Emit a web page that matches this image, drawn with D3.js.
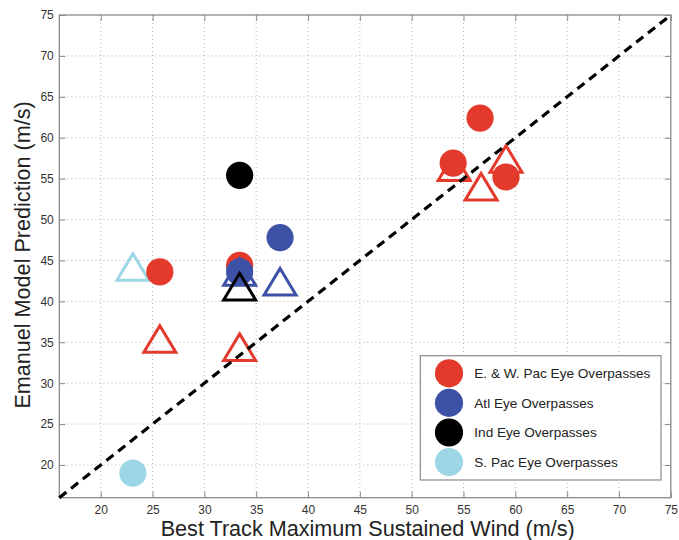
<!DOCTYPE html>
<html>
<head>
<meta charset="utf-8">
<script src="https://cdn.jsdelivr.net/npm/d3@7/dist/d3.min.js"></script>
<style>
  html, body { margin: 0; padding: 0; background: #fff; }
  svg { display: block; font-family: "Liberation Sans", Arial, Helvetica, sans-serif; }
</style>
</head>
<body>
<svg id="chart" width="679" height="540"></svg>
<script>
// Axis ticks (m/s)
const xTicks = [20, 25, 30, 35, 40, 45, 50, 55, 60, 65, 70, 75];
const yTicks = [20, 25, 30, 35, 40, 45, 50, 55, 60, 65, 70, 75];
const xDomain = [16, 75];
const yDomain = [16, 75];

// Regions, legend order
const regionNames = ["E. & W. Pac Eye Overpasses", "Atl Eye Overpasses", "Ind Eye Overpasses", "S. Pac Eye Overpasses"];
const regionColors = ["#e43a2c", "#3d52a6", "#000000", "#9dd7e5"];

// Filled circles: best track (x) vs model prediction (y)
const ewPacCircleX = [25.7, 33.4, 54.0, 56.6, 59.1];
const ewPacCircleY = [43.6, 44.4, 56.9, 62.4, 55.2];
const atlCircleX = [33.4, 37.3];
const atlCircleY = [43.6, 47.8];
const indCircleX = [33.4];
const indCircleY = [55.4];
const sPacCircleX = [23.1];
const sPacCircleY = [19.0];

// Open triangles
const ewPacTriX = [25.7, 33.4, 54.1, 56.7, 59.1];
const ewPacTriY = [35.4, 34.4, 56.4, 54.0, 57.4];
const atlTriX = [33.4, 37.3];
const atlTriY = [43.6, 42.4];
const indTriX = [33.4];
const indTriY = [41.8];
const sPacTriX = [23.1];
const sPacTriY = [44.2];

const svg = d3.select("#chart");
const plot = { left: 59.3, top: 15, right: 670.8, bottom: 497.7 };
const W = plot.right - plot.left, H = plot.bottom - plot.top;

const x = d3.scaleLinear().domain(xDomain).range([0, W]);
const y = d3.scaleLinear().domain(yDomain).range([H, 0]);

const g = svg.append("g").attr("transform", `translate(${plot.left},${plot.top})`);

g.append("rect").attr("width", W).attr("height", H).attr("fill", "#fff");

// Dotted grid
g.append("g").selectAll("line").data(xTicks.filter(t => t < xDomain[1])).join("line")
  .attr("x1", d => x(d)).attr("x2", d => x(d)).attr("y1", 0).attr("y2", H)
  .attr("stroke", "#b4b4b4").attr("stroke-width", 1).attr("stroke-dasharray", "1,3");
g.append("g").selectAll("line").data(yTicks.filter(t => t < yDomain[1])).join("line")
  .attr("y1", d => y(d)).attr("y2", d => y(d)).attr("x1", 0).attr("x2", W)
  .attr("stroke", "#b4b4b4").attr("stroke-width", 1).attr("stroke-dasharray", "1,3");

// Axes with inward ticks on all four sides
const tickLen = 6;
const axisColor = "#8a8a8a";
const styleAxis = sel => {
  sel.select(".domain").remove();
  sel.selectAll(".tick line").attr("stroke", axisColor).attr("stroke-width", 1);
  sel.selectAll(".tick text").attr("fill", "#333").style("font-size", "12px");
};
g.append("g").attr("transform", `translate(0,${H})`)
  .call(d3.axisBottom(x).tickValues(xTicks).tickSize(-tickLen).tickPadding(7.8))
  .call(styleAxis);
g.append("g")
  .call(d3.axisTop(x).tickValues(xTicks).tickSize(-tickLen).tickFormat(""))
  .call(styleAxis);
g.append("g")
  .call(d3.axisLeft(y).tickValues(yTicks).tickSize(-tickLen).tickPadding(5.5))
  .call(styleAxis);
g.append("g").attr("transform", `translate(${W},0)`)
  .call(d3.axisRight(y).tickValues(yTicks).tickSize(-tickLen).tickFormat(""))
  .call(styleAxis);

g.append("rect").attr("width", W).attr("height", H)
  .attr("fill", "none").attr("stroke", axisColor).attr("stroke-width", 1.3);

// Marker helpers
const R = 13.6;
const triPath = "M0,-13.3L16,13.3L-16,13.3Z";
function circles(xs, ys, color) {
  g.append("g").selectAll("circle").data(xs.map((v, i) => [v, ys[i]])).join("circle")
    .attr("cx", d => x(d[0])).attr("cy", d => y(d[1])).attr("r", R).attr("fill", color);
}
function triangles(xs, ys, color) {
  g.append("g").selectAll("path").data(xs.map((v, i) => [v, ys[i]])).join("path")
    .attr("d", triPath)
    .attr("transform", d => `translate(${x(d[0])},${y(d[1])})`)
    .attr("fill", "none").attr("stroke", color).attr("stroke-width", 3)
    .attr("stroke-linejoin", "miter");
}

triangles(sPacTriX, sPacTriY, regionColors[3]);
triangles(ewPacTriX, ewPacTriY, regionColors[0]);
circles(ewPacCircleX, ewPacCircleY, regionColors[0]);
triangles(atlTriX, atlTriY, regionColors[1]);
circles(atlCircleX, atlCircleY, regionColors[1]);
triangles(indTriX, indTriY, regionColors[2]);
circles(indCircleX, indCircleY, regionColors[2]);
circles(sPacCircleX, sPacCircleY, regionColors[3]);

// 1:1 reference line
g.append("line")
  .attr("x1", x(xDomain[0])).attr("y1", y(xDomain[0]))
  .attr("x2", x(xDomain[1])).attr("y2", y(xDomain[1]))
  .attr("stroke", "#000").attr("stroke-width", 3.2).attr("stroke-dasharray", "9,6");

// Legend
const lg = svg.append("g").attr("transform", "translate(420.3,355.7)");
lg.append("rect").attr("width", 240.7).attr("height", 124.3)
  .attr("fill", "#fff").attr("stroke", axisColor).attr("stroke-width", 1.2);
const items = lg.selectAll("g.item").data(regionNames).join("g")
  .attr("class", "item")
  .attr("transform", (d, i) => `translate(0,${17.6 + i * 29.6})`);
items.append("circle").attr("cx", 28.7).attr("r", 14.1).attr("fill", (d, i) => regionColors[i]);
items.append("text").attr("x", 54).attr("dy", "0.35em")
  .attr("fill", "#222").style("font-size", "13.6px").text(d => d);

// Axis titles
svg.append("text").attr("x", 367.7).attr("y", 536).attr("text-anchor", "middle")
  .attr("fill", "#222").style("font-size", "21.6px")
  .text("Best Track Maximum Sustained Wind (m/s)");
svg.append("text").attr("transform", "translate(29.5,255) rotate(-90)")
  .attr("text-anchor", "middle").attr("fill", "#222").style("font-size", "21.6px")
  .text("Emanuel Model Prediction (m/s)");
</script>
</body>
</html>
